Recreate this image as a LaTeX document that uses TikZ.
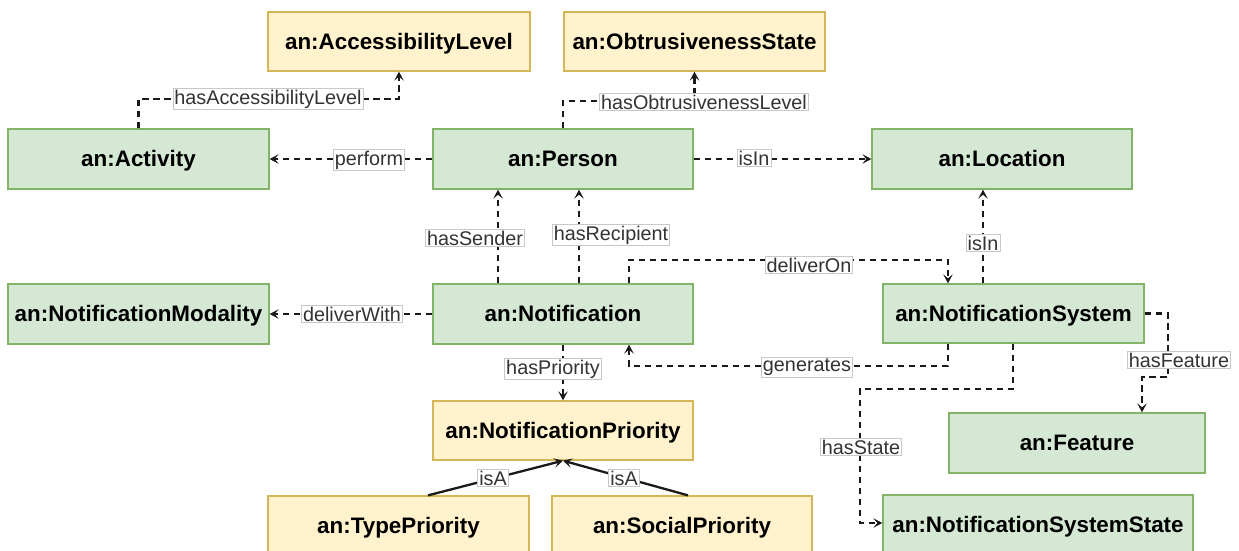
\documentclass[tikz,border=0pt]{standalone}
\usepackage{fontspec}
\setmainfont{Liberation Sans}
\usetikzlibrary{arrows.meta,calc}
\definecolor{gfill}{HTML}{D5E8D4}
\definecolor{gline}{HTML}{82B366}
\definecolor{yfill}{HTML}{FFF2CC}
\definecolor{yline}{HTML}{D6B656}
\definecolor{lbltext}{HTML}{333333}
\definecolor{lblline}{HTML}{C8C8C8}
\definecolor{edge}{HTML}{1A1A1A}
\tikzset{
  cls/.style={draw, line width=1.3pt, inner sep=0pt, minimum height=59pt,
    text height=20pt, text depth=4.5pt,
    font=\fontsize{22.4}{26}\selectfont\bfseries},
  gbox/.style={cls, fill=gfill, draw=gline},
  ybox/.style={cls, fill=yfill, draw=yline},
  rel/.style={draw=edge, line width=2.3pt, dash pattern=on 6.5pt off 4.5pt,
    -{Stealth[length=9pt,width=9.5pt,inset=4pt]}},
  isa/.style={draw=edge, line width=2.3pt, -{Stealth[length=9pt,width=9.5pt,inset=4pt]}},
  lbl/.style={fill=white, draw=lblline, line width=0.8pt, text=lbltext,
    inner xsep=1.5pt, inner ysep=1.5pt, font=\fontsize{19.8}{22}\selectfont}
}
\begin{document}
\begin{tikzpicture}[x=1pt,y=-1pt]
\path[use as bounding box] (0,0) rectangle (1239,550);
\clip (0,0) rectangle (1239,550);
% nodes
\node[ybox, minimum width=262pt] (acc) at (399,41.5) {an:AccessibilityLevel};
\node[ybox, minimum width=261pt] (obt) at (694.5,41.5) {an:ObtrusivenessState};
\node[gbox, minimum width=261pt, minimum height=60pt] (act) at (138.5,159) {an:Activity};
\node[gbox, minimum width=260pt, minimum height=60pt] (per) at (563,159) {an:Person};
\node[gbox, minimum width=260pt, minimum height=60pt] (loc) at (1002,159) {an:Location};
\node[gbox, minimum width=261pt, minimum height=60pt] (mod) at (138.5,314) {an:NotificationModality};
\node[gbox, minimum width=260pt, minimum height=60pt] (noti) at (563,314) {an:Notification};
\node[gbox, minimum width=261pt] (nsys) at (1013.5,313.5) {an:NotificationSystem};
\node[ybox, minimum width=260pt] (prio) at (563,430.5) {an:NotificationPriority};
\node[gbox, minimum width=256pt, minimum height=60pt] (feat) at (1077,443) {an:Feature};
\node[ybox, minimum width=261pt, minimum height=60pt] (typ) at (398.5,526) {an:TypePriority};
\node[ybox, minimum width=260pt, minimum height=60pt] (soc) at (682,526) {an:SocialPriority};
\node[gbox, minimum width=310pt, minimum height=60pt] (nss) at (1038,525) {an:NotificationSystemState};
% connectors
\draw[rel] (act.north) -- (act.north |- 0,99) -| (acc.south);
\draw[rel] (per.north) -- (per.north |- 0,101) -| (obt.south);
\draw[rel] (per.west) -- (act.east);
\draw[rel] (per.east) -- (loc.west);
\draw[rel] (noti.north -| 498,0) -- (per.south -| 498,0);
\draw[rel] (noti.north -| 579,0) -- (per.south -| 579,0);
\draw[rel] (noti.north -| 629,0) -- (629,260) -- (948,260) -- (nsys.north -| 948,0);
\draw[rel] (nsys.north -| 983,0) -- (loc.south -| 983,0);
\draw[rel] (noti.west) -- (mod.east);
\draw[rel] (noti.south) -- (prio.north);
\draw[rel] (nsys.south -| 948,0) -- (948,366) -- (629,366) -- (noti.south -| 629,0);
\draw[rel] (nsys.south -| 1013,0) -- (1013,389) -- (860,389) -- (860,523) -- (nss.west |- 0,523);
\draw[rel] (nsys.east) -- (1168,313.5) -- (1168,377) -- (1142,377) -- (feat.north -| 1142,0);
\draw[isa] (typ.north -| 428,0) -- (prio.south);
\draw[isa] (soc.north -| 688,0) -- (prio.south);
% labels
\node[lbl] (l1) at (268,99) {hasAccessibilityLevel};
\node[lbl] (l2) at (704,102) {hasObtrusivenessLevel};
\node[lbl] (l3) at (369,160) {perform};
\node[lbl] (l4) at (754,158) {isIn};
\node[lbl] (l5) at (475,238) {hasSender};
\node[lbl] (l6) at (611,235) {hasRecipient};
\node[lbl] (l7) at (809,265) {deliverOn};
\node[lbl] (l8) at (983,243) {isIn};
\node[lbl] (l9) at (352,314) {deliverWith};
\node[lbl] (l10) at (553,369) {hasPriority};
\node[lbl] (l11) at (807,367) {generates};
\node[lbl] (l12) at (861,447) {hasState};
\node[lbl] (l13) at (1179,360) {hasFeature};
\node[lbl] (l14) at (493,478) {isA};
\node[lbl] (l15) at (624,478) {isA};
\end{tikzpicture}
\end{document}
